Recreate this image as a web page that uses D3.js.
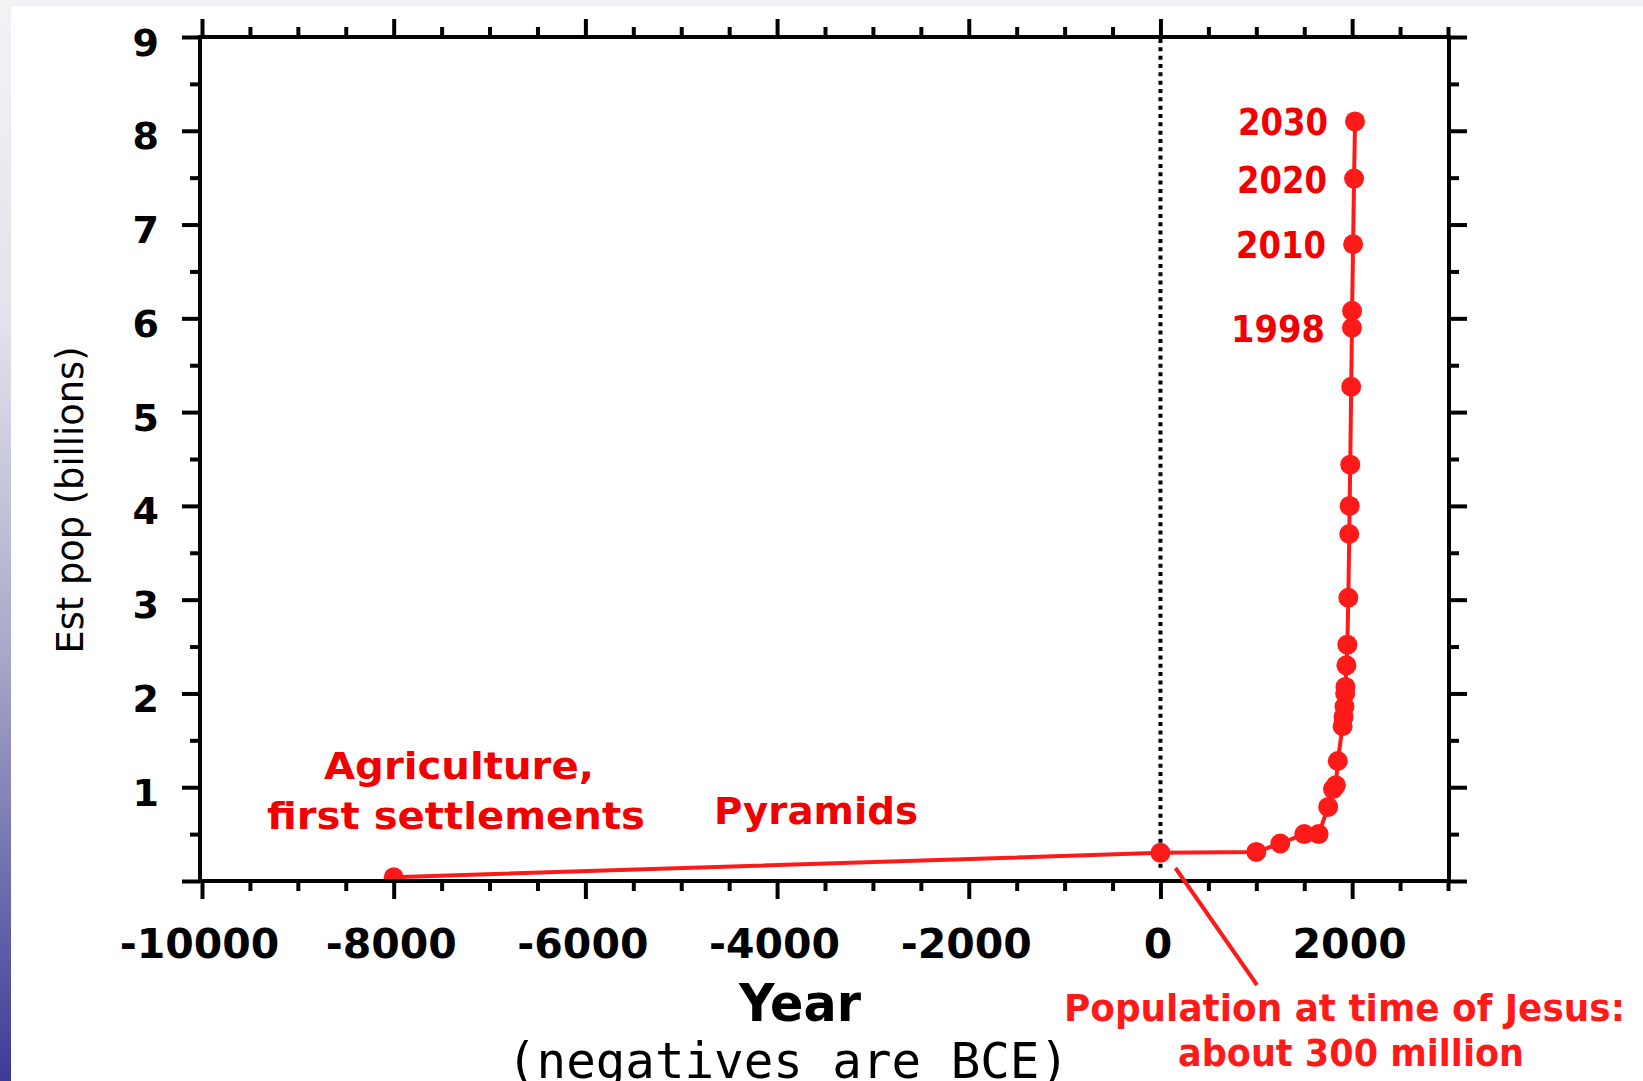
<!DOCTYPE html>
<html>
<head>
<meta charset="utf-8">
<script src="https://cdn.jsdelivr.net/npm/d3@7"></script>
<style>
  html, body { margin: 0; padding: 0; background: #fff; overflow: hidden; }
  svg { display: block; }
</style>
</head>
<body>
<svg id="chart" width="1643" height="1081"></svg>
<script>
// world population estimates
var years = [-8000, 0, 1000, 1250, 1500, 1650, 1750, 1800, 1830, 1850, 1900, 1910, 1920, 1927, 1930, 1940, 1950, 1960, 1970, 1974, 1980, 1990, 1998, 1999, 2010, 2020, 2030];
var popBillions = [0.04, 0.30, 0.31, 0.40, 0.50, 0.50, 0.79, 0.98, 1.02, 1.28, 1.65, 1.75, 1.86, 2.00, 2.07, 2.30, 2.52, 3.02, 3.70, 4.00, 4.44, 5.27, 5.90, 6.08, 6.79, 7.49, 8.10];

// points that get a year label beside them
var labelledYears = [2030, 2020, 2010, 1998];

// axis ticks
var xMajorTicks = [-10000, -8000, -6000, -4000, -2000, 0, 2000];
var xMinorTicks = d3.range(-10000, 3001, 500).filter(function(v){ return xMajorTicks.indexOf(v) < 0; });
var yMajorTicks = [0, 1, 2, 3, 4, 5, 6, 7, 8, 9];
var yMinorTicks = [0.5, 1.5, 2.5, 3.5, 4.5, 5.5, 6.5, 7.5, 8.5];

var RED = "#ff1a1a";
var LABEL_RED = "#f20000";

var data = years.map(function(y, i){ return {year: y, pop: popBillions[i]}; });

var svg = d3.select("#chart");

// plot box (window.top is taken, so these get their own names)
var plotL = 200, plotR = 1449, plotT = 37, plotB = 881;

var x = d3.scaleLinear().domain([-10000, 3000]).range([202, 1448]);
var y = d3.scaleLinear().domain([0, 9]).range([plotB, plotT]);

// page decoration: grey top strip and bluish gradient on the left
var defs = svg.append("defs");
var grad = defs.append("linearGradient").attr("id", "sideGrad")
    .attr("x1", 0).attr("y1", 0).attr("x2", 0).attr("y2", 1);
grad.append("stop").attr("offset", "0").attr("stop-color", "#f3f3f6");
grad.append("stop").attr("offset", "0.3").attr("stop-color", "#e2e2ec");
grad.append("stop").attr("offset", "0.6").attr("stop-color", "#a9a9c9");
grad.append("stop").attr("offset", "1").attr("stop-color", "#3b3b98");
svg.append("rect").attr("x", 0).attr("y", 0).attr("width", 1643).attr("height", 6).attr("fill", "#f2f2f5");
svg.append("rect").attr("x", 0).attr("y", 0).attr("width", 11).attr("height", 1081).attr("fill", "url(#sideGrad)");

defs.append("clipPath").attr("id", "plotClip")
  .append("rect").attr("x", plotL).attr("y", plotT).attr("width", plotR - plotL).attr("height", plotB - plotT - 2);

// ticks on all four sides, pointing outwards
function styleAxis(g){
  g.select(".domain").remove();
  g.selectAll(".tick line").attr("stroke", "#000").attr("stroke-width", 4);
}
function noLabel(){ return ""; }

svg.append("g").attr("transform", "translate(0," + plotB + ")")
  .call(d3.axisBottom(x).tickValues(xMinorTicks).tickSize(10).tickFormat(noLabel)).call(styleAxis);
svg.append("g").attr("transform", "translate(0," + plotT + ")")
  .call(d3.axisTop(x).tickValues(xMinorTicks).tickSize(10).tickFormat(noLabel)).call(styleAxis);
svg.append("g").attr("transform", "translate(0," + plotT + ")")
  .call(d3.axisTop(x).tickValues(xMajorTicks).tickSize(18).tickFormat(noLabel)).call(styleAxis);

var xAxis = svg.append("g").attr("transform", "translate(0," + plotB + ")")
  .call(d3.axisBottom(x).tickValues(xMajorTicks).tickSize(18).tickFormat(function(d){ return d < 0 ? "-" + (-d) : String(d); }))
  .call(styleAxis);
xAxis.selectAll(".tick text")
  .attr("y", 77).attr("dy", 0).attr("x", -3)
  .attr("fill", "#000")
  .style("font-family", "'DejaVu Sans', sans-serif")
  .style("font-weight", "bold")
  .style("font-size", "41px");

svg.append("g").attr("transform", "translate(" + plotL + ",0)")
  .call(d3.axisLeft(y).tickValues(yMinorTicks).tickSize(10).tickFormat(noLabel)).call(styleAxis);
svg.append("g").attr("transform", "translate(" + plotR + ",0)")
  .call(d3.axisRight(y).tickValues(yMinorTicks).tickSize(10).tickFormat(noLabel)).call(styleAxis);
svg.append("g").attr("transform", "translate(" + plotR + ",0)")
  .call(d3.axisRight(y).tickValues(yMajorTicks).tickSize(18).tickFormat(noLabel)).call(styleAxis);

var yAxis = svg.append("g").attr("transform", "translate(" + plotL + ",0)")
  .call(d3.axisLeft(y).tickValues(yMajorTicks.filter(function(v){ return v > 0; })).tickSize(18))
  .call(styleAxis);
// the zero tick has no label
svg.append("g").attr("transform", "translate(" + plotL + ",0)")
  .call(d3.axisLeft(y).tickValues([0]).tickSize(18).tickFormat(noLabel)).call(styleAxis);
yAxis.selectAll(".tick text")
  .attr("x", -41).attr("y", 18).attr("dy", 0)
  .attr("fill", "#000")
  .style("font-family", "'DejaVu Sans', sans-serif")
  .style("font-weight", "bold")
  .style("font-size", "38px");

// frame
svg.append("rect")
  .attr("x", plotL).attr("y", plotT)
  .attr("width", plotR - plotL).attr("height", plotB - plotT)
  .attr("fill", "none").attr("stroke", "#000").attr("stroke-width", 4);

// dotted line at year 0
svg.append("line")
  .attr("x1", x(0)).attr("x2", x(0))
  .attr("y1", plotT + 2).attr("y2", plotB - 10)
  .attr("stroke", "#000").attr("stroke-width", 4)
  .attr("stroke-dasharray", "4 4.33");

// population curve
var plot = svg.append("g").attr("clip-path", "url(#plotClip)");
var line = d3.line()
  .x(function(d){ return x(d.year); })
  .y(function(d){ return y(d.pop); });

plot.append("path")
  .datum(data)
  .attr("d", line)
  .attr("fill", "none")
  .attr("stroke", RED)
  .attr("stroke-width", 4);

plot.selectAll("circle")
  .data(data)
  .enter().append("circle")
    .attr("cx", function(d){ return x(d.year); })
    .attr("cy", function(d){ return y(d.pop); })
    .attr("r", 10)
    .attr("fill", RED);

// year labels next to the recent points
svg.selectAll("text.yearlabel")
  .data(data.filter(function(d){ return labelledYears.indexOf(d.year) >= 0; }))
  .enter().append("text")
    .attr("class", "yearlabel")
    .attr("x", function(d){ return x(d.year) - 27; })
    .attr("y", function(d){ return y(d.pop) + 14; })
    .attr("text-anchor", "end")
    .attr("textLength", function(d){ return d.year === 1998 ? 94 : 90; })
    .attr("lengthAdjust", "spacingAndGlyphs")
    .attr("fill", LABEL_RED)
    .style("font-family", "'DejaVu Sans', sans-serif")
    .style("font-weight", "bold")
    .style("font-size", "38px")
    .text(function(d){ return d.year; });

// annotations
function note(txt, px, py, len, size, color){
  svg.append("text")
    .attr("x", px).attr("y", py)
    .attr("textLength", len)
    .attr("lengthAdjust", "spacingAndGlyphs")
    .attr("fill", color)
    .style("font-family", "'DejaVu Sans', sans-serif")
    .style("font-weight", "bold")
    .style("font-size", size + "px")
    .text(txt);
}
note("Agriculture,", 324, 779, 270, 38, LABEL_RED);
note("first settlements", 267, 829, 378, 38, LABEL_RED);
note("Pyramids", 714, 824, 204, 38, LABEL_RED);
note("Population at time of Jesus:", 1064, 1021, 561, 38, RED);
note("about 300 million", 1178, 1066, 346, 38, RED);

// pointer from the note to the year-0 point
svg.append("line")
  .attr("x1", x(0) + 15).attr("y1", y(0) - 13)
  .attr("x2", 1257).attr("y2", 985)
  .attr("stroke", RED).attr("stroke-width", 4);

// axis titles
svg.append("text")
  .attr("x", 800).attr("y", 1021)
  .attr("text-anchor", "middle")
  .attr("textLength", 122)
  .attr("lengthAdjust", "spacingAndGlyphs")
  .style("font-family", "'DejaVu Sans', sans-serif")
  .style("font-weight", "bold")
  .style("font-size", "52px")
  .text("Year");

svg.append("text")
  .attr("x", 507).attr("y", 1078)
  .attr("textLength", 562)
  .attr("lengthAdjust", "spacingAndGlyphs")
  .style("font-family", "'DejaVu Sans Mono', monospace")
  .style("font-size", "50px")
  .text("(negatives are BCE)");

svg.append("text")
  .attr("transform", "translate(83,500) rotate(-90)")
  .attr("text-anchor", "middle")
  .attr("textLength", 307)
  .attr("lengthAdjust", "spacingAndGlyphs")
  .style("font-family", "'DejaVu Sans', sans-serif")
  .style("font-size", "37px")
  .text("Est pop (billions)");
</script>
</body>
</html>
